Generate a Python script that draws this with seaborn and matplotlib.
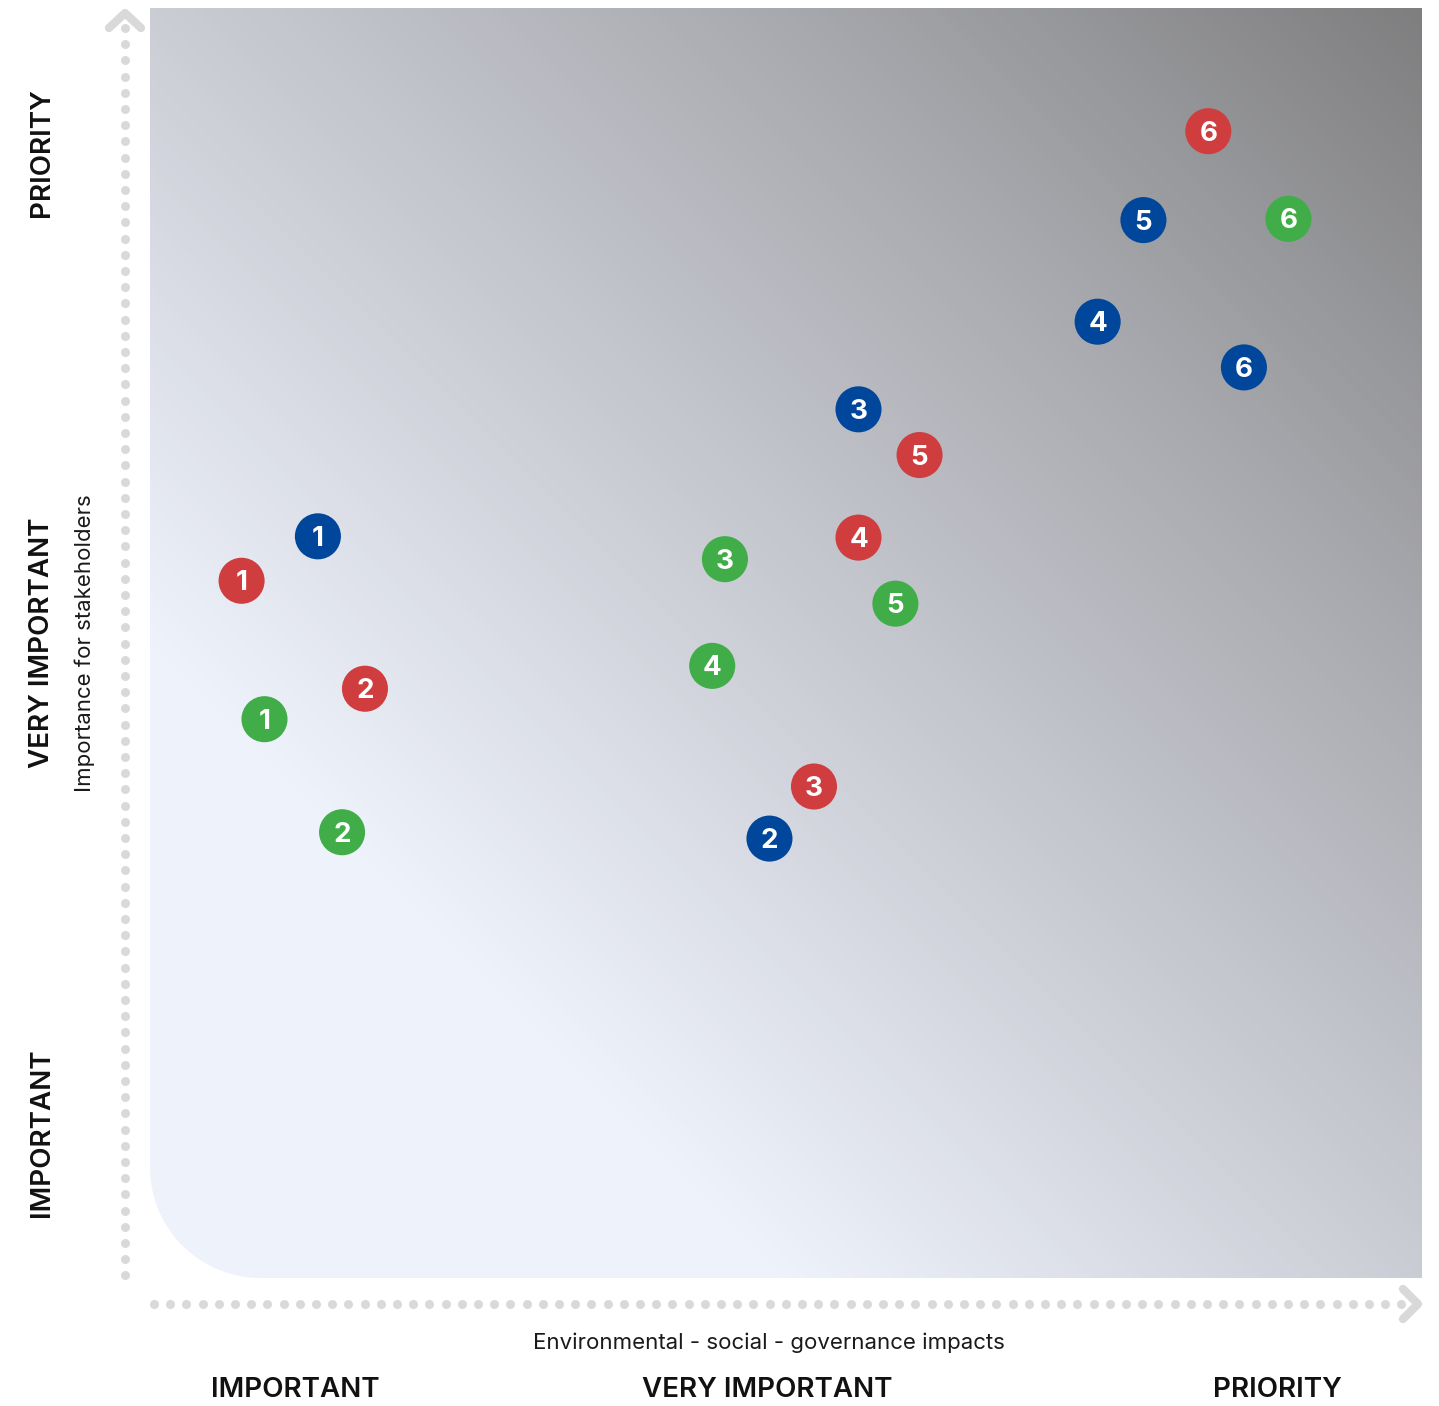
import numpy as np
import pandas as pd
import matplotlib
matplotlib.use("Agg")
import matplotlib.pyplot as plt
from matplotlib.colors import LinearSegmentedColormap
from matplotlib.path import Path
from matplotlib.patches import PathPatch
import seaborn as sns

# Materiality matrix: three topic groups, six topics each
groups = ["Environment", "Social", "Governance"]
topic_ids = [1, 2, 3, 4, 5, 6]
# x: ESG impact score, y: importance for stakeholders (0-10 scale)
env_x = [0.72, 1.69, 5.22, 5.57, 6.05, 8.32]
env_y = [5.49, 4.64, 3.87, 5.83, 6.48, 9.03]
soc_x = [1.32, 4.87, 5.57, 7.45, 7.81, 8.60]
soc_y = [5.84, 3.46, 6.84, 7.53, 8.33, 7.17]
gov_x = [0.90, 1.51, 4.52, 4.42, 5.86, 8.95]
gov_y = [4.40, 3.51, 5.66, 4.82, 5.31, 8.34]

level_labels = ["IMPORTANT", "VERY IMPORTANT", "PRIORITY"]
x_title = "Environmental - social - governance impacts"
y_title = "Importance for stakeholders"

palette = {"Environment": "#d03d3f", "Social": "#00479b", "Governance": "#40ad48"}

df = pd.DataFrame({
    "group": np.repeat(groups, len(topic_ids)),
    "topic": topic_ids * 3,
    "x": env_x + soc_x + gov_x,
    "y": env_y + soc_y + gov_y,
})

sns.set_theme(style="white")
plt.rcParams["font.family"] = ["Inter", "DejaVu Sans"]

W, H = 1439, 1406
fig = plt.figure(figsize=(W / 100, H / 100), dpi=100)

# full-figure layer in pixel units for the decorative axis guides
deco = fig.add_axes([0, 0, 1, 1])
deco.set_xlim(0, W)
deco.set_ylim(H, 0)
deco.axis("off")

# main plotting area
left, right, top, bottom = 150, 1422, 8, 1278
ax = fig.add_axes([left / W, 1 - bottom / H, (right - left) / W, (bottom - top) / H])
ax.set_xlim(0, 10)
ax.set_ylim(0, 10)
ax.axis("off")

# diagonal gradient background with a rounded lower-left corner
cmap = LinearSegmentedColormap.from_list(
    "bg", [(0.0, "#eef2fc"), (0.25, "#eef2fb"), (0.5, "#cbcdd5"), (0.75, "#a8a9ae"), (1.0, "#7f7f80")]
)
n = 400
gx, gy = np.meshgrid(np.linspace(0, 1, n), np.linspace(0, 1, n))
grad = (gx + gy) / 2
img = ax.imshow(grad, cmap=cmap, vmin=0, vmax=1, extent=(0, 10, 0, 10),
                origin="lower", aspect="auto", zorder=0, interpolation="bilinear")
r = 0.87
theta = np.linspace(np.pi, 1.5 * np.pi, 40)
arc = np.column_stack([r + r * np.cos(theta), r + r * np.sin(theta)])
verts = np.vstack([[[0, 10], [0, r]], arc, [[r, 0], [10, 0], [10, 10], [0, 10]]])
clip = PathPatch(Path(verts), transform=ax.transData, facecolor="none", edgecolor="none")
ax.add_patch(clip)
img.set_clip_path(clip)

# topic markers
sns.scatterplot(data=df, x="x", y="y", hue="group", palette=palette, s=1100,
                linewidth=0, legend=False, ax=ax, zorder=3)
for _, row in df.iterrows():
    ax.text(row["x"], row["y"] - 0.02, str(row["topic"]), color="white",
            fontsize=20, fontweight="bold", ha="center", va="center", zorder=4)
ax.set_xlim(0, 10)
ax.set_ylim(0, 10)

# dotted axis guides with chevron arrow heads
guide = "#d9d9d9"
vy = np.arange(28, 1278, 16.2)
deco.scatter(np.full_like(vy, 125), vy, s=42, color=guide, linewidths=0)
deco.plot([109, 125, 141], [28, 13, 28], color=guide, lw=6, solid_capstyle="round",
          solid_joinstyle="round")
hx = np.arange(154, 1410, 16.2)
deco.scatter(hx, np.full_like(hx, 1304), s=42, color=guide, linewidths=0)
deco.plot([1403, 1418, 1403], [1289, 1304, 1319], color=guide, lw=6,
          solid_capstyle="round", solid_joinstyle="round")

# axis titles and level labels
deco.text(769, 1343, x_title, fontsize=16, ha="center", va="center", color="#1a1a1a")
deco.text(85, 643, y_title, fontsize=16, ha="center", va="center", rotation=90, color="#1a1a1a")
for label, xc in zip(level_labels, [295, 767, 1277]):
    deco.text(xc, 1390, label, fontsize=20, fontweight="semibold", ha="center",
              va="center", color="#111111")
for label, yc in zip(level_labels, [1133, 643, 153]):
    deco.text(42, yc, label, fontsize=20, fontweight="semibold", ha="center",
              va="center", rotation=90, color="#111111")

fig.savefig("out.png", dpi=100, facecolor="white")
